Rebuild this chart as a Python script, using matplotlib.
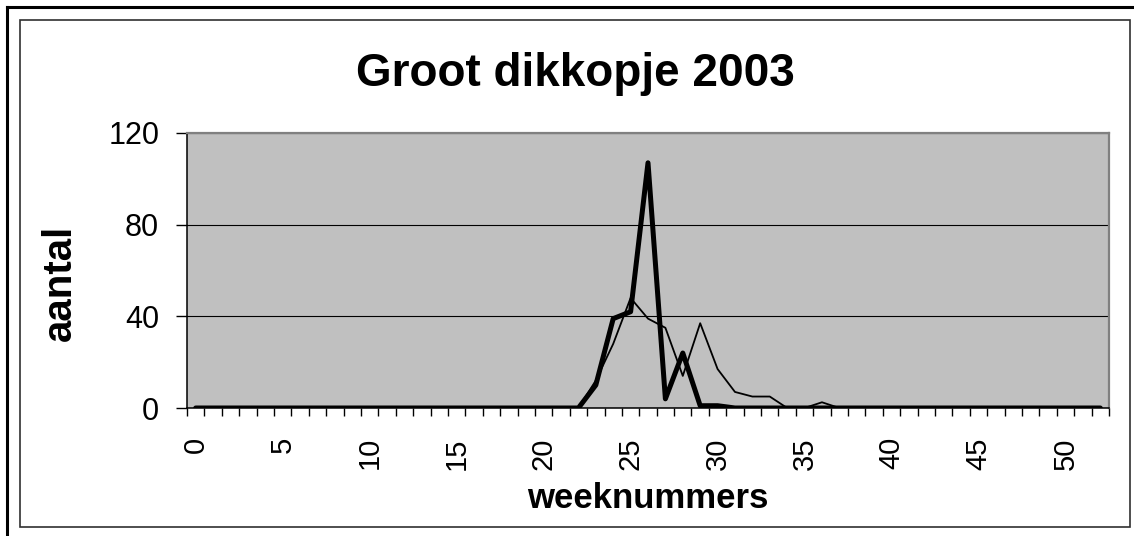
import matplotlib
matplotlib.use('Agg')
import matplotlib.pyplot as plt
from matplotlib.lines import Line2D
from matplotlib.ticker import MultipleLocator, FixedLocator

plt.rcParams['font.family'] = ['Liberation Sans', 'DejaVu Sans']

weeks = list(range(0, 53))

# thick line (counts 2003)
counts_2003 = [0] * 53
for w, v in {23: 10, 24: 39, 25: 42, 26: 107, 27: 4, 28: 24, 29: 1, 30: 1}.items():
    counts_2003[w] = v

# thin line
counts_other = [0] * 53
for w, v in {23: 12, 24: 28, 25: 48, 26: 39, 27: 35, 28: 14, 29: 37, 30: 17,
             31: 7, 32: 5, 33: 5, 36: 2.5}.items():
    counts_other[w] = v

x_labels = [str(w) for w in range(0, 51, 5)]
y_ticks = [0, 40, 80, 120]

W, H = 1134, 536
fig = plt.figure(figsize=(W / 100, H / 100), dpi=100)

def fx(px):
    return px / W

def fy(py):
    return 1 - py / H

ax = fig.add_axes([fx(187), fy(408), fx(1109) - fx(187), fy(133) - fy(408)])
ax.set_facecolor('#c0c0c0')

ax.plot(weeks, counts_other, color='black', lw=1.3, zorder=3)
ax.plot(weeks, counts_2003, color='black', lw=3.6, solid_capstyle='round',
        solid_joinstyle='round', zorder=4)

ax.set_xlim(-0.5, 52.5)
ax.set_ylim(0, 120)

ax.yaxis.set_major_locator(FixedLocator(y_ticks))
ax.set_yticklabels([str(v) for v in y_ticks], fontsize=22)
ax.tick_params(axis='y', direction='out', length=8, width=1, pad=12, color='black')

ax.xaxis.set_major_locator(FixedLocator(list(range(0, 51, 5))))
ax.set_xticklabels(x_labels, fontsize=21, rotation=90)
ax.xaxis.set_minor_locator(MultipleLocator(1, offset=0.5))
ax.tick_params(axis='x', which='major', length=0, pad=21)
ax.tick_params(axis='x', which='minor', direction='out', length=6, width=1, color='black')

ax.set_axisbelow(True)
ax.yaxis.grid(True, color='black', lw=0.8)
ax.xaxis.grid(False)

for s in ['left', 'bottom']:
    ax.spines[s].set_color('black')
    ax.spines[s].set_linewidth(1.1)
for s in ['top', 'right']:
    ax.spines[s].set_color('#808080')
    ax.spines[s].set_linewidth(1.6)

fig.text(fx(575), fy(74), 'Groot dikkopje 2003', fontsize=33, fontweight='bold',
         ha='center', va='center')
fig.text(fx(648), fy(498), 'weeknummers', fontsize=25, fontweight='bold',
         ha='center', va='center')
fig.text(fx(60), fy(283), 'aantal', fontsize=29, fontweight='bold',
         ha='center', va='center', rotation=90)

# chart frame
fig.add_artist(Line2D([fx(7), fx(W)], [fy(7), fy(7)], color='black', lw=2.2))
fig.add_artist(Line2D([fx(7), fx(7)], [fy(7), fy(H)], color='black', lw=2.2))
fig.add_artist(plt.Rectangle((fx(20), fy(527)), fx(1130) - fx(20), fy(20) - fy(527),
                             fill=False, edgecolor='#303030', lw=1.2))

fig.savefig('out.png', dpi=100)
